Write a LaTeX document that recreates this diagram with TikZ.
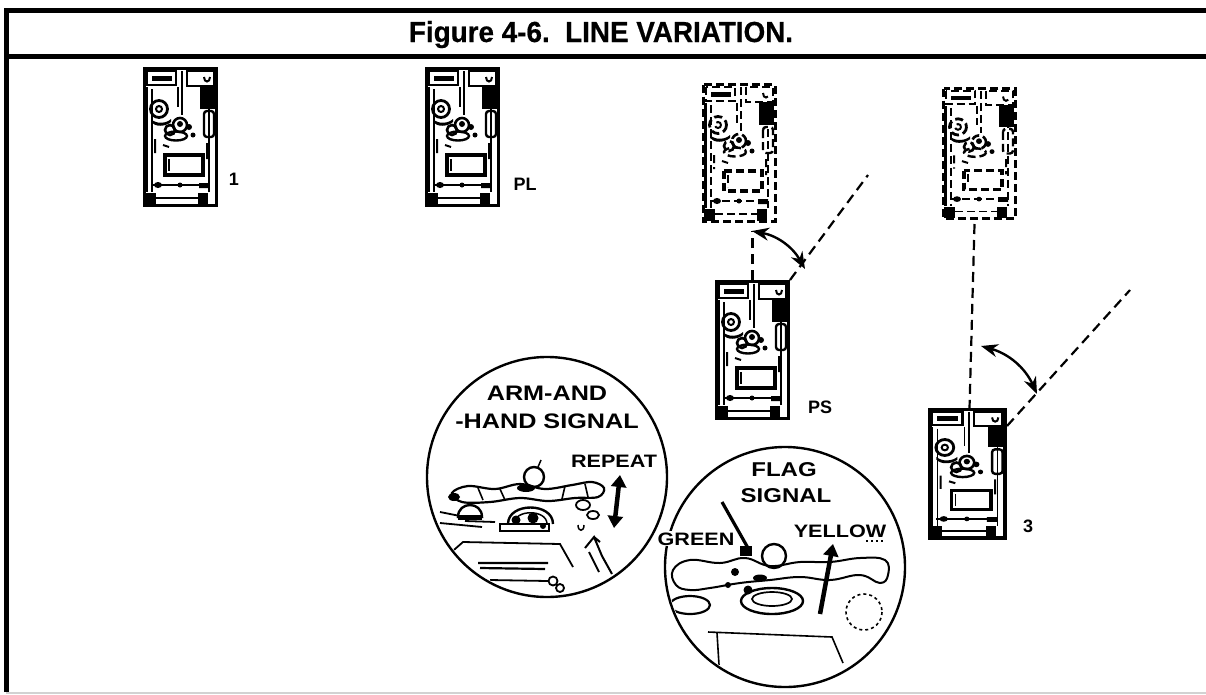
\documentclass[tikz,border=0pt]{standalone}
\usepackage{fontspec}
\setmainfont{Liberation Sans}
\newfontfamily\widefont[FakeStretch=1.2]{Liberation Sans}
\newfontfamily\titlefont[FakeStretch=0.96,FakeBold=0.6]{Liberation Sans}
\usetikzlibrary{arrows.meta}

\newcommand\tankbody{%
  \draw[line width=3.4] (1.7,1.7) rectangle (73.3,138.3);
  \fill (1.7,20) rectangle (5,125);
  \draw[line width=1.4] (9,22) -- (9,125);
  \draw[line width=1.4] (66,22) -- (66,125);
  \draw[line width=2.4] (4,4) rectangle (33,18);
  \fill (9,9) rectangle (29,13.5);
  \draw[line width=2.4] (44,4) rectangle (71,19);
  \draw[line width=2] (61,10) .. controls (61,16) and (67,16) .. (67,10);
  \draw[line width=2.4] (39,4) -- (39,48);
  \draw[line width=1.4] (35,20) -- (35,40);
  \fill (57,19) rectangle (72,42);
  \draw[line width=2.8] (16,42) circle (8.5);
  \draw[line width=2] (16,42) circle (3);
  \fill (8,52) .. controls (14,58) and (24,56) .. (28,52) -- (28,55) .. controls (22,60) and (12,60) .. (8,55) -- cycle;
  \draw[line width=2.6] (37,58) circle (7);
  \fill (37,57) circle (3);
  \draw[line width=2.6] (27,63) circle (5);
  \draw[line width=2.4] (33,69) ellipse (11 and 4.5);
  \fill (46,60) circle (3) (50,68) circle (2.5);
  \draw[line width=2.4, rounded corners=3pt] (61,44) rectangle (71,70);
  \draw[line width=2] (12,72) -- (12,86) (64,76) -- (64,92) (20,78) -- (26,80);
  \draw[line width=3.2] (22,88) rectangle (60,108);
  \draw[line width=1.6] (26,92) -- (26,104);
  \draw[line width=2] (8,118) -- (66,118);
  \fill (15,118) ellipse (4 and 3) (37,118) circle (2.5) (56,116) rectangle (66,121);
  \fill (2,126) rectangle (13,138.3);
  \fill (55,126) rectangle (65,138.3);
  \draw[line width=1.6] (13,131) -- (55,131);
}

\tikzset{
  tankpic/.pic={\tankbody},
  ghostpic/.pic={\begin{scope}[dash pattern=on 8pt off 4pt]\tankbody\end{scope}},
  tankbox/.style={minimum width=75pt, minimum height=140pt, inner sep=0pt, outer sep=0pt, anchor=north west},
  tanklbl/.style={font=\bfseries\fontsize{18}{18}\selectfont, anchor=base, inner sep=0pt},
  cirtxt/.style={font=\widefont\bfseries\fontsize{21}{21}\selectfont, anchor=base, inner sep=0pt},
  smtxt/.style={font=\widefont\bfseries\fontsize{18}{18}\selectfont, anchor=base, inner sep=1pt},
  dashline/.style={line width=2.2pt, dash pattern=on 10pt off 6pt},
  curvearrow/.style={line width=2.4pt, {Stealth[length=17pt,width=13pt]}-{Stealth[length=17pt,width=13pt]}},
  bigarrow/.style={line width=4.5pt, -{Triangle[length=12pt,width=15pt]}},
  bigdarrow/.style={line width=4.5pt, {Triangle[length=12pt,width=15pt]}-{Triangle[length=12pt,width=15pt]}},
  lens/.style={circle, draw, line width=2.4pt, minimum size=240pt, inner sep=0pt, fill=white},
}

\begin{document}
\begin{tikzpicture}[x=1pt, y=-1pt]
\useasboundingbox (0,0) rectangle (1206,694);

% frame
\draw[line width=5pt] (6.5,692) -- (6.5,10) -- (1206,10);
\draw[line width=5pt] (6.5,56) -- (1206,56);
\draw[gray!35, line width=2pt] (6,693) -- (1206,693);
\node[font=\titlefont\bfseries\fontsize{29}{29}\selectfont, anchor=base, inner sep=0pt] (title) at (601,42) {Figure 4-6.\ \ LINE VARIATION.};

% tanks
\node[tankbox] (t1) at (143,67) {};
\pic at (t1.north west) {tankpic};
\node[tanklbl] (l1) at (234,185) {1};

\node[tankbox] (tPL) at (425,67) {};
\pic at (tPL.north west) {tankpic};
\node[tanklbl] (lPL) at (525,190) {PL};

\node[tankbox] (gPS) at (702,83) {};
\pic at (gPS.north west) {ghostpic};
\node[tankbox] (tPS) at (715,280) {};
\pic at (tPS.north west) {tankpic};
\node[tanklbl] (lPS) at (820,413) {PS};

\node[tankbox, minimum height=133pt] (g3) at (942,87) {};
\pic[yscale=0.95] at (g3.north west) {ghostpic};
\node[tankbox, minimum width=79pt, minimum height=132pt] (t3) at (928,408) {};
\pic[xscale=1.05, yscale=0.94] at (t3.north west) {tankpic};
\node[tanklbl] (l3) at (1028,532) {3};

% PS turn
\coordinate (dPS) at (868,175);
\draw[dashline] (tPS.north) -- ([yshift=-8pt]tPS.north |- gPS.south);
\draw[dashline] (tPS.north east) -- (dPS);
\coordinate (aPS1) at (752,231);
\coordinate (aPS2) at (805,269);
\draw[curvearrow] (aPS1) to[bend left=25] (aPS2);

% 3 turn
\coordinate (d3) at (1130,290);
\draw[dashline] ([xshift=-5pt,yshift=-4pt]g3.south) -- ([xshift=2pt]t3.north);
\draw[dashline] ([yshift=-18pt]t3.north east) -- (d3);
\coordinate (a31) at (981,346);
\coordinate (a32) at (1037,394);
\draw[curvearrow] (a31) to[bend left=25] (a32);

% arm-and-hand lens
\node[lens] (c1) at (547,477) {};
\begin{scope}
\clip (547,477) circle (118);
\draw[line width=2.4pt] (534,477) circle (10);
\draw[line width=1.5pt] (538,467) -- (541,460);
\draw[line width=2.2pt] plot[smooth cycle, tension=0.6] coordinates {(452,493) (468,486) (495,489) (520,484) (545,489) (572,485) (592,482) (604,488) (598,497) (575,498) (548,501) (520,498) (490,502) (462,502)};
\fill (526,488) ellipse (9 and 4);
\fill (454,497) ellipse (6 and 4);
\draw[line width=1.6pt] (478,488) -- (483,500) (500,489) -- (505,500) (565,486) -- (562,499) (585,484) -- (588,497);
\draw[line width=2.4pt] (508,524) .. controls (508,502) and (553,502) .. (553,524);
\draw[line width=1.5pt] (514,524) .. controls (514,509) and (547,509) .. (547,524);
\draw[line width=2.4pt] (500,524) rectangle (549,531);
\fill (516,520) circle (4.5) (533,518) circle (5.5) (543,526) circle (3);
\draw[line width=2.4pt] (458,517) .. controls (458,501) and (482,501) .. (482,517) -- cycle;
\fill (458,515) rectangle (482,520);
\draw[line width=1.8pt] (440,512) -- (470,518) (440,523) -- (482,527) (465,521) -- (495,522);
\draw[line width=1.8pt] (583,505) ellipse (7 and 5) (593,515) ellipse (6 and 4);
\draw[line width=1.5pt] (578,525) .. controls (578,532) and (584,532) .. (584,525);
\draw[line width=1.8pt] (447,556) -- (463,542) -- (560,544) -- (573,567);
\draw[line width=2.2pt] (478,563) -- (548,563) (480,568) -- (545,569);
\draw[line width=1.8pt] (490,580) -- (548,581);
\draw[line width=1.8pt] (553,581) circle (4.5) (560,588) circle (4);
\draw[line width=2pt] (585,548) -- (594,537) -- (602,556) -- (612,574) (589,552) -- (599,572) (594,537) -- (600,542);
\end{scope}
\node[cirtxt] (c1a) at (547,400) {ARM-AND};
\node[cirtxt] (c1b) at (547,428) {-HAND SIGNAL};
\node[smtxt] (rep) at (614,467) {REPEAT};
\coordinate (r1) at (614,528);
\coordinate (r2) at (620,475);
\draw[bigdarrow] (r1) -- (r2);

% flag lens
\node[lens] (c2) at (785,567) {};
\begin{scope}
\clip (785,567) circle (118);
\draw[line width=3.2pt] (722,502) -- (748,548);
\fill (740,546) rectangle (752,556);
\draw[line width=2.4pt] (774,556) circle (12);
\draw[line width=2pt] plot[smooth cycle, tension=0.7] coordinates {(673,570) (690,560) (720,563) (745,558) (770,566) (800,562) (830,562) (860,558) (885,560) (888,575) (880,583) (860,575) (830,580) (800,577) (770,580) (740,583) (710,588) (690,590) (676,585)};
\fill (735,572) circle (4) (748,590) circle (4.5) (760,578) ellipse (7 and 3.5) (728,585) circle (3);
\draw[line width=2.4pt] (772,601) ellipse (31 and 13);
\draw[line width=1.7pt] (772,599) ellipse (20 and 7);
\draw[line width=2.2pt] (690,605) ellipse (20 and 9);
\draw[line width=1.6pt, dash pattern=on 3pt off 3pt] (864,612) circle (18);
\draw[line width=1.2pt, dash pattern=on 2pt off 3pt] (866,541) -- (884,541);
\draw[line width=1.6pt] (708,632) -- (832,637) -- (843,663);
\draw[line width=1.6pt] (717,633) -- (719,665);
\end{scope}
\node[cirtxt, font=\widefont\bfseries\fontsize{20}{20}\selectfont] (c2a) at (784,476) {FLAG};
\node[cirtxt, font=\widefont\bfseries\fontsize{20}{20}\selectfont] (c2b) at (786,502) {SIGNAL};
\node[smtxt, fill=white] (grn) at (696,545) {GREEN};
\node[smtxt] (yel) at (840,537) {YELLOW};
\coordinate (y1) at (820,614);
\coordinate (y2) at (833,544);
\draw[bigarrow] (y1) -- (y2);
\end{tikzpicture}
\end{document}
